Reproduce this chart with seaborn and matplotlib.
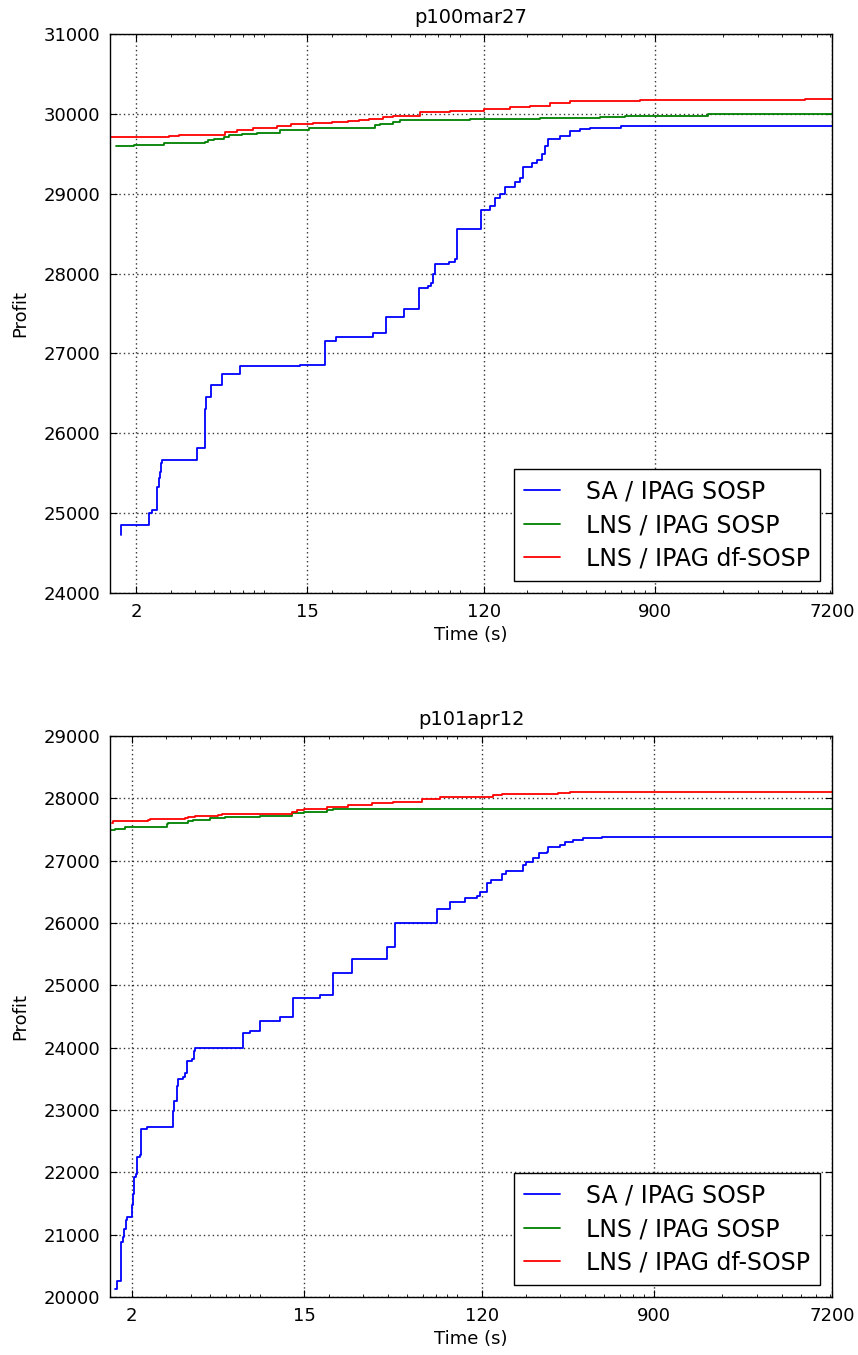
import numpy as np
import pandas as pd
import matplotlib
matplotlib.use("Agg")
import matplotlib.pyplot as plt
import matplotlib.ticker as mticker
import seaborn as sns

# panel titles, series names, axis ticks
titles = ['p100mar27', 'p101apr12']
methods = ['SA / IPAG SOSP', 'LNS / IPAG SOSP', 'LNS / IPAG df-SOSP']
colors = {'SA / IPAG SOSP': '#0000ff', 'LNS / IPAG SOSP': '#008000', 'LNS / IPAG df-SOSP': '#ff0000'}
xticks = [2, 15, 120, 900, 7200]
xlims = [(1.47, 7200), (1.55, 7200)]
yticks_top = [24000, 25000, 26000, 27000, 28000, 29000, 30000, 31000]
yticks_bot = [20000, 21000, 22000, 23000, 24000, 25000, 26000, 27000, 28000, 29000]

# p100mar27 -- time (s) / profit, best-so-far step curves
top_sa_t = [1.67, 1.68, 2.33, 2.41, 2.55, 2.57, 2.61, 2.64, 2.67, 2.71, 4.09, 4.52, 4.55, 4.8,
            5.5, 6.8, 13.8, 18.5, 21.1, 32.4, 37.9, 46.5, 55.5, 62, 64.5, 65.5, 67, 79.6, 84.8,
            87.5, 116, 129, 137, 145, 154, 173, 184, 190, 212, 224, 238, 247, 255, 294, 331,
            372, 419, 601, 7200]
top_sa_v = [24730, 24850, 25000, 25035, 25050, 25330, 25440, 25520, 25630, 25670, 25820, 26300,
            26450, 26600, 26740, 26840, 26850, 27160, 27200, 27250, 27455, 27555, 27820, 27845,
            27880, 28000, 28125, 28150, 28180, 28560, 28800, 28850, 28950, 29000, 29080, 29150,
            29200, 29330, 29380, 29420, 29500, 29600, 29680, 29720, 29780, 29810, 29825, 29850,
            29850]
top_lns_t = [1.57, 1.94, 2.79, 4.47, 4.68, 4.97, 5.64, 5.93, 6.94, 8.28, 10.9, 15.2, 33.3, 35.3,
             41.3, 44.7, 102, 232, 471, 627, 1667, 7200]
top_lns_v = [29598, 29615, 29636, 29652, 29673, 29686, 29715, 29732, 29745, 29757, 29795, 29827,
             29861, 29877, 29902, 29920, 29935, 29945, 29957, 29974, 29995, 29995]
top_df_t = [1.47, 2.93, 3.33, 5.66, 6.55, 7.9, 10.5, 12.4, 16.1, 20.0, 24.3, 27.4, 30.8, 36.5,
            41.3, 56.6, 80.6, 120, 163, 207, 262, 331, 748, 5264, 7200]
top_df_v = [29707, 29723, 29736, 29770, 29798, 29827, 29852, 29870, 29886, 29902, 29915, 29927,
            29940, 29957, 29974, 30020, 30040, 30060, 30080, 30100, 30130, 30158, 30174, 30190,
            30190]

# p101apr12
bot_sa_t = [1.65, 1.69, 1.76, 1.80, 1.83, 1.87, 1.90, 2.0, 2.02, 2.05, 2.10, 2.12, 2.19, 2.22,
            2.23, 2.38, 3.23, 3.28, 3.38, 3.42, 3.65, 3.73, 3.83, 4.03, 4.14, 4.19, 7.35, 7.97,
            8.96, 11.3, 13.2, 18.1, 21.0, 26.3, 39.4, 43.4, 71.1, 82.6, 98.4, 113.6, 117, 128,
            134, 151, 159, 194, 202, 219, 234, 256, 260, 299, 317, 349, 392, 486, 7200]
bot_sa_v = [20130, 20250, 20880, 20960, 21096, 21230, 21282, 21470, 21656, 21933, 21976, 22253,
            22285, 22509, 22696, 22733, 22989, 23149, 23389, 23496, 23522, 23586, 23789, 23816,
            23949, 24000, 24230, 24270, 24420, 24500, 24800, 24850, 25200, 25430, 25616, 26000,
            26229, 26330, 26400, 26426, 26490, 26640, 26682, 26789, 26842, 26933, 26986, 27040,
            27120, 27146, 27226, 27253, 27306, 27333, 27360, 27386, 27386]
bot_lns_t = [1.55, 1.65, 1.85, 2.2, 3.01, 3.07, 3.88, 4.11, 4.99, 5.95, 8.96, 13.0, 14.9, 19.5,
             21.0, 163, 7200]
bot_lns_v = [27493, 27514, 27536, 27546, 27589, 27610, 27632, 27653, 27680, 27696, 27717, 27770,
             27786, 27813, 27824, 27834, 27834]
bot_df_t = [1.59, 1.61, 2.43, 2.48, 3.73, 3.88, 4.19, 5.5, 5.73, 13.0, 13.8, 15.0, 19.5, 25.2,
            33.1, 42.6, 59.3, 73.5, 137, 151, 293, 336, 7200]
bot_df_v = [27600, 27642, 27653, 27669, 27680, 27696, 27717, 27733, 27749, 27786, 27813, 27834,
            27866, 27893, 27920, 27946, 27989, 28026, 28053, 28069, 28080, 28101, 28101]


def make_frame(series):
    parts = []
    for name, (t, v) in zip(methods, series):
        parts.append(pd.DataFrame({'time': t, 'profit': v, 'method': name}))
    return pd.concat(parts, ignore_index=True)


panels = [
    make_frame([(top_sa_t, top_sa_v), (top_lns_t, top_lns_v), (top_df_t, top_df_v)]),
    make_frame([(bot_sa_t, bot_sa_v), (bot_lns_t, bot_lns_v), (bot_df_t, bot_df_v)]),
]
yticks = [yticks_top, yticks_bot]

sns.set_style("white")
plt.rcParams.update({
    'font.family': ['DejaVu Sans'],
    'font.size': 13,
    'text.color': 'black',
    'axes.labelcolor': 'black',
    'axes.edgecolor': 'black',
    'axes.linewidth': 1.0,
    'xtick.direction': 'in',
    'ytick.direction': 'in',
    'xtick.top': True,
    'ytick.right': True,
    'xtick.bottom': True,
    'ytick.left': True,
    'xtick.major.size': 5,
    'xtick.minor.size': 2.5,
    'ytick.major.size': 5,
    'xtick.color': 'black',
    'ytick.color': 'black',
})

fig = plt.figure(figsize=(8.58, 13.55), dpi=100)
ax_top = fig.add_axes([110 / 858, 1 - 593 / 1355, 722 / 858, 559 / 1355])
ax_bot = fig.add_axes([110 / 858, 1 - 1297 / 1355, 722 / 858, 561 / 1355])

for ax, df, title, xl, yt in zip([ax_top, ax_bot], panels, titles, xlims, yticks):
    sns.lineplot(data=df, x='time', y='profit', hue='method', hue_order=methods,
                 palette=colors, estimator=None, drawstyle='steps-post',
                 linewidth=1.3, legend=False, ax=ax)
    ax.set_xscale('log')
    ax.set_xlim(*xl)
    ax.set_ylim(yt[0], yt[-1])
    ax.set_xticks(xticks)
    ax.xaxis.set_major_formatter(mticker.FixedFormatter([str(x) for x in xticks]))
    ax.xaxis.set_minor_locator(mticker.LogLocator(base=10, subs=np.arange(2, 10)))
    ax.xaxis.set_minor_formatter(mticker.NullFormatter())
    ax.set_yticks(yt)
    ax.yaxis.set_major_formatter(mticker.FormatStrFormatter('%d'))
    ax.tick_params(labelsize=13, pad=7)
    ax.grid(True, which='major', linestyle=(0, (1, 2.2)), color='black', linewidth=1.0, alpha=0.8)
    ax.set_title(title, fontsize=14, pad=8)
    ax.set_xlabel('Time (s)', fontsize=13)
    ax.set_ylabel('Profit', fontsize=13, labelpad=10)
    for s in ax.spines.values():
        s.set_visible(True)
        s.set_color('black')
    leg = ax.legend(ax.get_lines()[:3], methods, loc='lower right', fontsize=17,
                    handlelength=1.5, handletextpad=1.1, fancybox=False, framealpha=1,
                    edgecolor='black', borderpad=0.45, labelspacing=0.4)
    leg.get_frame().set_linewidth(1.0)

fig.savefig('out.png', dpi=100)
